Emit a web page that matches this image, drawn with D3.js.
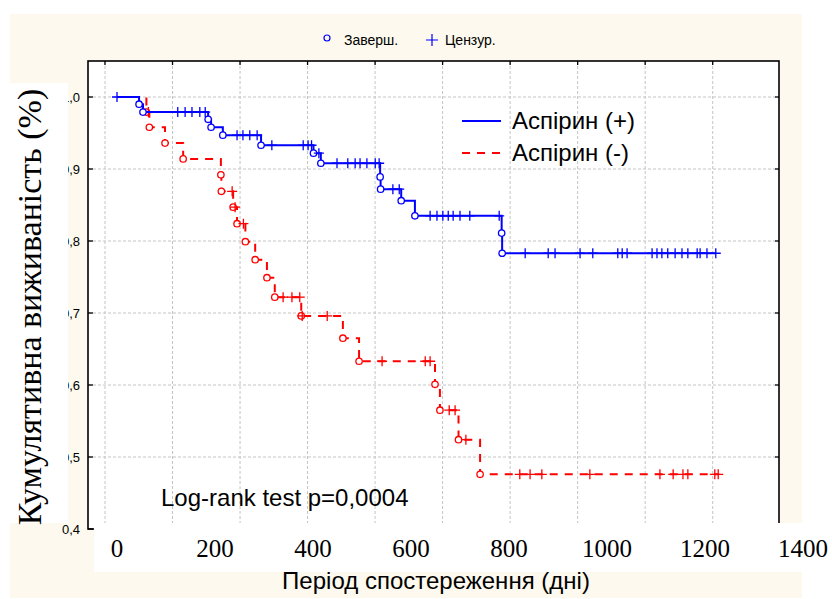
<!DOCTYPE html>
<html>
<head>
<meta charset="utf-8">
<script src="https://cdn.jsdelivr.net/npm/d3@7"></script>
<style>
    body { margin: 0; background: #ffffff; }
    svg text { font-family: "Liberation Sans", Arial, sans-serif; }
</style>
</head>
<body>
<svg id="chart" width="832" height="599"></svg>
<script>

// Aspirin (+) group: times of completed events, survival after each, censored times
let blueEventDays = [45, 53, 186, 192, 216, 294, 401, 416, 537, 538, 580, 608, 785, 786];
let blueEventSurv = [0.990, 0.979, 0.969, 0.958, 0.947, 0.933, 0.922, 0.908, 0.889, 0.872, 0.856, 0.835, 0.811, 0.783];
let blueCensorDays = [0, 124, 139, 153, 169, 180, 245, 257, 271, 286, 316, 380, 390, 397, 412,
    449, 471, 486, 496, 510, 527, 535, 563, 576, 639, 653, 665, 676, 686, 700, 720, 780,
    833, 880, 894, 945, 971, 1022, 1031, 1041, 1092, 1102, 1112, 1124, 1139, 1153, 1165,
    1184, 1190, 1204, 1222];

// Aspirin (-) group
let redEventDays = [60, 66, 98, 135, 212, 213, 237, 245, 262, 282, 306, 322, 376, 461, 494, 649, 659, 697, 741];
let redEventSurv = [0.979, 0.958, 0.936, 0.914, 0.892, 0.869, 0.847, 0.824, 0.799, 0.774, 0.749, 0.722,
    0.696, 0.665, 0.633, 0.601, 0.565, 0.524, 0.476];
let redCensorDays = [64, 235, 241, 258, 339, 357, 373, 378, 429, 541, 629, 639, 678, 690, 712,
    822, 843, 867, 965, 1108, 1135, 1155, 1165, 1220, 1227];

let xTickLabels = [0, 200, 400, 600, 800, 1000, 1200, 1400];
let yTickValues = [0.4, 0.5, 0.6, 0.7, 0.8, 0.9, 1.0];
let seriesNames = ["Аспірин (+)", "Аспірин (-)"];
let markerNames = ["Заверш.", "Цензур."];

/** Kaplan-Meier style chart drawn on top of a cream panel. */
class SurvivalChart {
    constructor(svg) {
        this.svg = svg;
        this.frame = {left: 88, right: 779, top: 61, bottom: 529};

        this.x = d3.scaleLinear().domain([0, 1400]).range([117, 803]);
        this.y = d3.scaleLinear().domain([0.4, 1.0]).range([529, 97]);

        // the old axis had 10 even intervals, not lined up with the day labels
        this.gridDays = d3.range(10).map(k => -24.5 + 137.8 * k);
    }

    /**
     * survival value at time t, read from the step function
     */
    survAt(days, surv, t) {
        let s = 1;
        for (let i = 0; i < days.length; i++) {
            if (days[i] <= t) s = surv[i];
        }
        return s;
    }

    drawBackground() {
        let f = this.frame;
        this.svg.append("rect")
            .attr("x", 10).attr("y", 14)
            .attr("width", 792).attr("height", 584)
            .attr("fill", "#fdf9ee");

        this.svg.append("rect")
            .attr("x", f.left).attr("y", f.top)
            .attr("width", f.right - f.left).attr("height", f.bottom - f.top)
            .attr("fill", "#ffffff");

        let grid = this.svg.append("g")
            .attr("stroke", "#c4c4c4")
            .attr("stroke-width", 1)
            .attr("stroke-dasharray", "3,2");

        grid.selectAll(".vgrid")
            .data(this.gridDays).enter().append("line")
            .attr("class", "vgrid")
            .attr("x1", d => this.x(d)).attr("x2", d => this.x(d))
            .attr("y1", f.top).attr("y2", f.bottom);

        grid.selectAll(".hgrid")
            .data(yTickValues.slice(1)).enter().append("line")
            .attr("class", "hgrid")
            .attr("x1", f.left).attr("x2", f.right)
            .attr("y1", d => this.y(d)).attr("y2", d => this.y(d));
    }

    drawFrame() {
        let f = this.frame;
        let ticks = this.svg.append("g").attr("stroke", "#000").attr("stroke-width", 1.3);

        ticks.selectAll(".ttick")
            .data(this.gridDays).enter().append("line")
            .attr("x1", d => this.x(d)).attr("x2", d => this.x(d))
            .attr("y1", f.top).attr("y2", f.top + 4);

        ticks.selectAll(".ltick")
            .data(yTickValues).enter().append("line")
            .attr("x1", f.left).attr("x2", f.left + 5)
            .attr("y1", d => this.y(d)).attr("y2", d => this.y(d));

        ticks.selectAll(".rtick")
            .data(yTickValues).enter().append("line")
            .attr("x1", f.right - 4).attr("x2", f.right)
            .attr("y1", d => this.y(d)).attr("y2", d => this.y(d));

        this.svg.append("rect")
            .attr("x", f.left).attr("y", f.top)
            .attr("width", f.right - f.left).attr("height", f.bottom - f.top)
            .attr("fill", "none")
            .attr("stroke", "#000")
            .attr("stroke-width", 1.6);

        this.svg.selectAll(".ylab")
            .data(yTickValues).enter().append("text")
            .attr("class", "ylab")
            .attr("x", 80)
            .attr("y", d => this.y(d) + 5)
            .attr("text-anchor", "end")
            .attr("font-size", 13)
            .text(d => d3.format(".1f")(d).replace(".", ","));
    }

    /**
     * Draws one survival curve with its event circles and censor crosses
     */
    drawCurve(days, surv, censors, color, dash) {
        let self = this;
        let last = censors[censors.length - 1];
        let pts = [[0, 1]];
        days.forEach((d, i) => pts.push([d, surv[i]]));
        pts.push([last, surv[surv.length - 1]]);

        let line = d3.line()
            .x(d => self.x(d[0]))
            .y(d => self.y(d[1]))
            .curve(d3.curveStepAfter);

        let g = this.svg.append("g");

        g.append("path")
            .datum(pts)
            .attr("d", line)
            .attr("fill", "none")
            .attr("stroke", color)
            .attr("stroke-width", 2)
            .attr("stroke-dasharray", dash);

        g.selectAll(".ev")
            .data(days).enter().append("circle")
            .attr("cx", d => self.x(d))
            .attr("cy", (d, i) => self.y(surv[i]))
            .attr("r", 3.2)
            .attr("fill", "#fff")
            .attr("stroke", color)
            .attr("stroke-width", 1.3);

        let cens = censors.map(t => [t, self.survAt(days, surv, t)]);
        g.selectAll(".cens")
            .data(cens).enter().append("path")
            .attr("d", d => {
                let cx = self.x(d[0]), cy = self.y(d[1]);
                return `M${cx - 5},${cy}H${cx + 5}M${cx},${cy - 5}V${cy + 5}`;
            })
            .attr("stroke", color)
            .attr("stroke-width", 1.3);
    }

    drawLegends() {
        let top = this.svg.append("g").attr("font-size", 14);
        top.append("circle")
            .attr("cx", 327).attr("cy", 38).attr("r", 3)
            .attr("fill", "none").attr("stroke", "#0000ff").attr("stroke-width", 1.2);
        top.append("text").attr("x", 344).attr("y", 45).text(markerNames[0]);
        top.append("path")
            .attr("d", "M426,40H438M432,34V46")
            .attr("stroke", "#0000ff").attr("stroke-width", 1.2);
        top.append("text").attr("x", 445).attr("y", 45).text(markerNames[1]);

        let colors = ["#0000ff", "#ff0000"];
        let dashes = [null, "8,7"];
        let leg = this.svg.append("g");
        leg.selectAll("line")
            .data(seriesNames).enter().append("line")
            .attr("x1", 462).attr("x2", 501)
            .attr("y1", (d, i) => 121 + i * 32).attr("y2", (d, i) => 121 + i * 32)
            .attr("stroke", (d, i) => colors[i])
            .attr("stroke-width", 2)
            .attr("stroke-dasharray", (d, i) => dashes[i]);
        leg.selectAll("text")
            .data(seriesNames).enter().append("text")
            .attr("x", 512)
            .attr("y", (d, i) => 129 + i * 32)
            .attr("font-size", 24)
            .text(d => d);

        this.svg.append("text")
            .attr("x", 161).attr("y", 506)
            .attr("font-size", 24)
            .text("Log-rank test p=0,0004");
    }

    /** white patches pasted over the original axis titles */
    drawOverlays() {
        let f = this.frame;
        this.svg.append("rect")
            .attr("x", 0).attr("y", 83)
            .attr("width", 68).attr("height", 440)
            .attr("fill", "#fff");

        this.svg.append("text")
            .attr("transform", "translate(41,307) rotate(-90)")
            .attr("text-anchor", "middle")
            .attr("font-family", "'Liberation Serif', 'Times New Roman', serif")
            .style("font-family", "'Liberation Serif', 'Times New Roman', serif")
            .attr("font-size", 34)
            .text("Кумулятивна виживаність (%)");

        this.svg.append("rect")
            .attr("x", f.left + 6).attr("y", 523)
            .attr("width", 832 - f.left - 6).attr("height", 49)
            .attr("fill", "#fff");

        this.svg.selectAll(".xlab")
            .data(xTickLabels).enter().append("text")
            .attr("class", "xlab")
            .attr("x", d => this.x(d))
            .attr("y", 557)
            .attr("text-anchor", "middle")
            .style("font-family", "'Liberation Serif', 'Times New Roman', serif")
            .attr("font-size", 25)
            .text(d => d);

        this.svg.append("text")
            .attr("x", 436).attr("y", 589)
            .attr("text-anchor", "middle")
            .attr("font-size", 24)
            .text("Період спостереження (дні)");
    }
}

let chart = new SurvivalChart(d3.select("#chart"));
chart.drawBackground();
chart.drawCurve(redEventDays, redEventSurv, redCensorDays, "#ff0000", "8,7");
chart.drawCurve(blueEventDays, blueEventSurv, blueCensorDays, "#0000ff", null);
chart.drawFrame();
chart.drawLegends();
chart.drawOverlays();

</script>
</body>
</html>
